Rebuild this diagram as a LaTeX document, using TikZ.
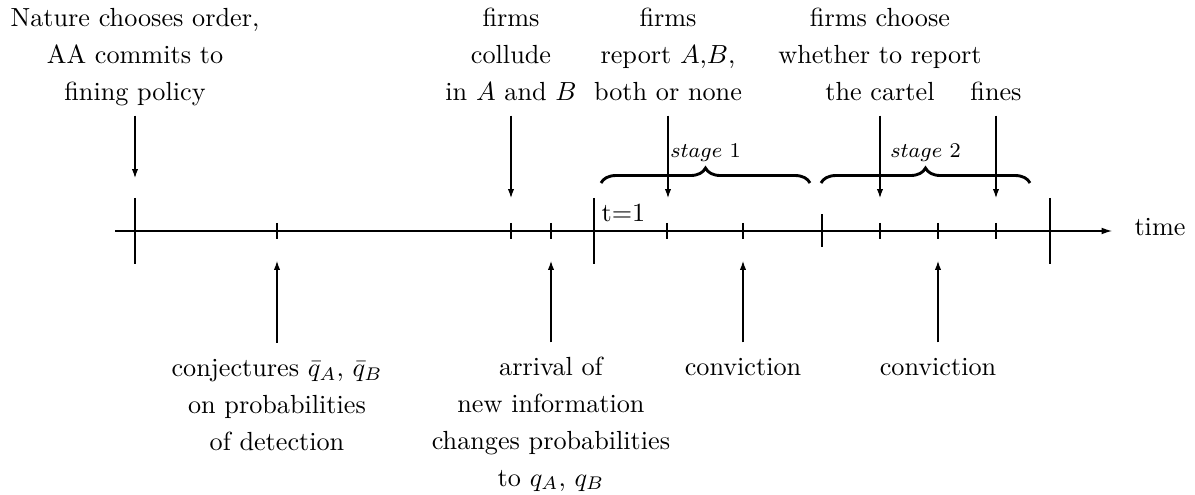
\documentclass[tikz,border=0pt]{standalone}
\usetikzlibrary{arrows.meta,decorations.pathreplacing}
\begin{document}
\begin{tikzpicture}[x=0.3817pt,y=-0.3817pt,
  arr/.style={-{Latex[length=3.4pt,width=2.4pt]},line width=0.4pt},
  axisline/.style={-{Latex[length=4pt,width=2.6pt]},line width=0.45pt},
  lbl/.style={anchor=base,inner sep=0pt,font=\fontsize{10}{14}\selectfont},
  ticksty/.style={line width=0.4pt},
  brc/.style={decorate,decoration={brace,amplitude=5.7pt},line width=1.1pt}]
\useasboundingbox (0,0) rectangle (1195,495);

% time axis
\coordinate (ax0) at (115,231);
\coordinate (ax1) at (1112,231);
\draw[axisline] (ax0) -- (ax1);
\node[anchor=base west,inner sep=0pt] (time) at (1134,236) {time};

% ticks
\foreach \x/\h in {135/33,594/33,1050/33,822/16.5,277/8,511/8,551/8,667/8,743/8,880/8,938/8,996/8}
  \draw[ticksty] (\x,{231-\h}) -- (\x,{231+\h});

\node[anchor=base,inner sep=0pt] (tone) at (623.5,222) {t=1};

% braces
\coordinate (s1a) at (601,183);
\coordinate (s1b) at (810,183);
\coordinate (s2a) at (821,183);
\coordinate (s2b) at (1030,183);
\draw[brc] (s1a) -- (s1b);
\draw[brc] (s2a) -- (s2b);
\node[anchor=base,inner sep=0pt,font=\footnotesize] (st1) at (705.5,158) {$stage$~1};
\node[anchor=base,inner sep=0pt,font=\footnotesize] (st2) at (925.5,158) {$stage$~2};

% top labels
\node[lbl] (n1) at (135,27) {\begin{tabular}[t]{@{}c@{}}Nature chooses order,\\ AA commits to\\ fining policy\end{tabular}};
\node[lbl] (n2) at (511,27) {\begin{tabular}[t]{@{}c@{}}firms\\ collude\\ in $A$ and $B$\end{tabular}};
\node[lbl] (n3) at (668,27) {\begin{tabular}[t]{@{}c@{}}firms\\ report $A$,$B$,\\ both or none\end{tabular}};
\node[lbl] (n4) at (880,27) {\begin{tabular}[t]{@{}c@{}}firms choose\\ whether to report\\ the cartel\end{tabular}};
\node[lbl] (n5) at (996,100.4) {\begin{tabular}[t]{@{}c@{}}fines\end{tabular}};

\coordinate (p1) at (135,178);
\coordinate (p2) at (511,198);
\coordinate (p3) at (668,198);
\coordinate (p4) at (880,198);
\coordinate (p5) at (996,198);
\foreach \i in {1,...,5}
  \draw[arr] ([yshift=-1.4pt]n\i.south) -- (p\i);

% bottom labels
\node[lbl] (b1) at (277,377) {\begin{tabular}[t]{@{}c@{}}conjectures $\bar q_A$, $\bar q_B$\\ on probabilities\\ of detection\end{tabular}};
\node[lbl] (b2) at (551,376) {\begin{tabular}[t]{@{}c@{}}arrival of\\ new information\\ changes probabilities\\ to $q_A$, $q_B$\end{tabular}};
\node[lbl] (b3) at (743,376) {\begin{tabular}[t]{@{}c@{}}conviction\end{tabular}};
\node[lbl] (b4) at (938,376) {\begin{tabular}[t]{@{}c@{}}conviction\end{tabular}};

\coordinate (q1) at (277,261);
\coordinate (q2) at (551,261);
\coordinate (q3) at (743,261);
\coordinate (q4) at (938,261);
\draw[arr] (277,343) -- (q1);
\foreach \i in {2,3,4}
  \draw[arr] ([yshift=2.8pt]b\i.north) -- (q\i);
\end{tikzpicture}
\end{document}
